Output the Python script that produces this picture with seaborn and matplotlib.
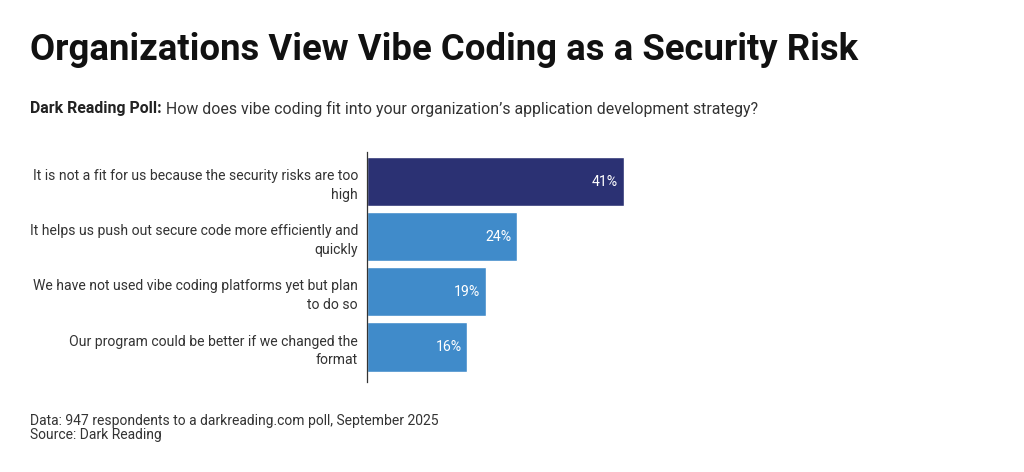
import matplotlib
matplotlib.use("Agg")
import matplotlib.pyplot as plt
import seaborn as sns
import pandas as pd

categories = [
    "It is not a fit for us because the security risks are too\nhigh",
    "It helps us push out secure code more efficiently and\nquickly",
    "We have not used vibe coding platforms yet but plan\nto do so",
    "Our program could be better if we changed the\nformat",
]
values = [41, 24, 19, 16]
value_labels = ["41%", "24%", "19%", "16%"]
bar_colors = ["#2b3173", "#408bca", "#408bca", "#408bca"]

title = "Organizations View Vibe Coding as a Security Risk"
subtitle_bold = "Dark Reading Poll:"
subtitle_rest = " How does vibe coding fit into your organization\u2019s application development strategy?"
footer = "Data: 947 respondents to a darkreading.com poll, September 2025\nSource: Dark Reading"

sns.set_theme(style="white")
plt.rcParams["font.family"] = ["Roboto", "DejaVu Sans"]

W, H = 1024, 472
fig = plt.figure(figsize=(W / 100, H / 100), dpi=100)
fig.patch.set_facecolor("white")

ax_left, ax_right, ax_top, ax_bot = 367, 993, 152, 382
ax = fig.add_axes([ax_left / W, 1 - ax_bot / H, (ax_right - ax_left) / W, (ax_bot - ax_top) / H])

df = pd.DataFrame({"cat": categories, "val": values})
sns.barplot(data=df, x="val", y="cat", hue="cat", palette=bar_colors,
            legend=False, width=0.89, ax=ax, saturation=1)

ax.set_xlim(0, 100)
ax.set_ylim(3.634, -0.535)
ax.set_xlabel("")
ax.set_ylabel("")
ax.set_xticks([])
for s in ["top", "right", "bottom"]:
    ax.spines[s].set_visible(False)
ax.spines["left"].set_color("#333333")
ax.spines["left"].set_linewidth(0.9)
ax.tick_params(axis="y", length=0, pad=6.5)
ax.set_yticks(range(len(categories)))
ax.set_yticklabels(categories, fontsize=10.05, color="#333333", linespacing=1.42)
for t in ax.get_yticklabels():
    t.set_horizontalalignment("right")
    t.set_multialignment("right")

for i, (v, lab) in enumerate(zip(values, value_labels)):
    ax.annotate(lab, xy=(v, i), xytext=(-4, 0), textcoords="offset points",
                ha="right", va="center", color="white", fontsize=10.2)

fig.text(30 / W, 1 - 50 / H, title, fontsize=26.3, fontweight="bold",
         color="#111111", va="center", ha="left")

t1 = fig.text(30 / W, 1 - 109 / H, subtitle_bold, fontsize=11.45, fontweight="bold",
              color="#222222", va="center", ha="left")
fig.canvas.draw()
bb = t1.get_window_extent()
fig.text(bb.x1 / W, 1 - 109 / H, subtitle_rest, fontsize=11.45, color="#333333",
         va="center", ha="left")

fig.text(30 / W, 1 - 428 / H, footer, fontsize=10.0, color="#333333",
         va="center", ha="left", linespacing=1.05)

fig.savefig("out.png", dpi=100, facecolor="white")
